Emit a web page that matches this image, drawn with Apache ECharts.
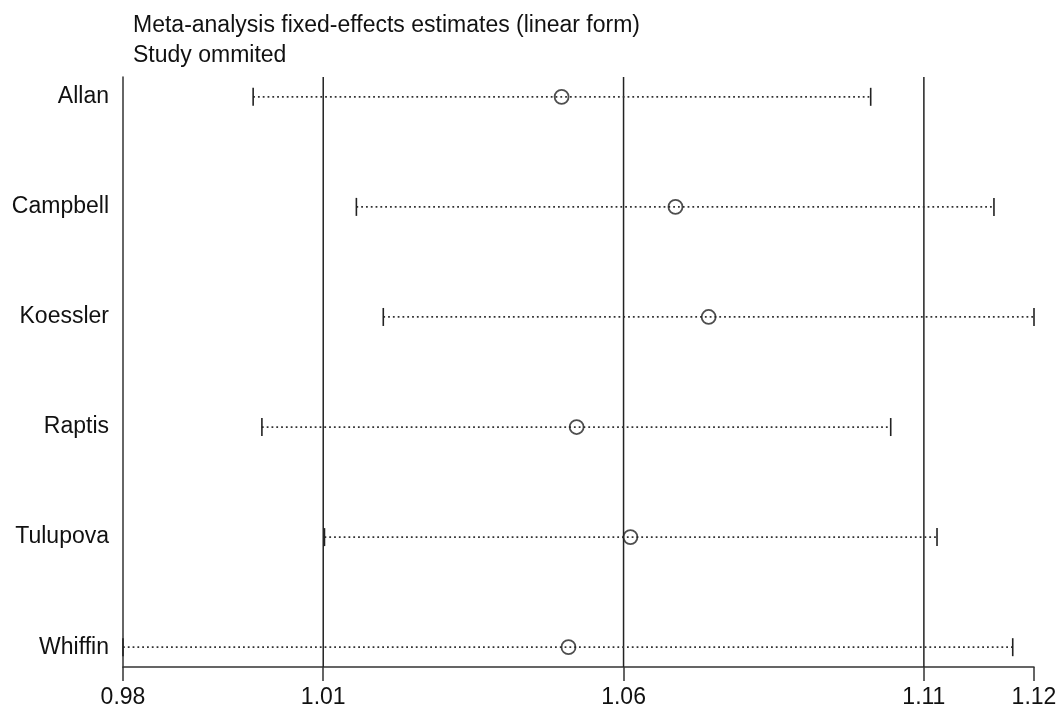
<!DOCTYPE html>
<html>
<head>
<meta charset="utf-8">
<script src="https://cdn.jsdelivr.net/npm/echarts@6/dist/echarts.min.js"></script>
<style>
html,body{margin:0;padding:0;background:#fff;}
#chart{width:1064px;height:709px;}
</style>
</head>
<body>
<div id="chart"></div>
<script>
// Data
const studies   = ['Allan', 'Campbell', 'Koessler', 'Raptis', 'Tulupova', 'Whiffin'];
const estimates = [1.0481, 1.0663, 1.0716, 1.0505, 1.0591, 1.0492];
const lowerCI   = [0.9988, 1.0153, 1.0196, 1.0002, 1.0102, 0.9780];
const upperCI   = [1.0975, 1.1172, 1.1236, 1.1007, 1.1081, 1.1202];
// combined estimate: lower CI, estimate, upper CI
const refLines  = [1.0100, 1.0580, 1.1060];

const xMin = Math.min(...lowerCI);
const xMax = Math.max(...upperCI);
const xTicks = [xMin, ...refLines, xMax];
const rowIdx = studies.map((s, i) => i);
const yMin = -0.18, yMax = studies.length - 1 + 0.18;

const FONT = "'Liberation Sans', Arial, Helvetica, sans-serif";
const LINE = '#333';

const chart = echarts.init(document.getElementById('chart'));
chart.setOption({
  backgroundColor: '#fff',
  animation: false,
  textStyle: { fontFamily: FONT },
  title: {
    text: 'Meta-analysis fixed-effects estimates (linear form)\nStudy ommited',
    left: 128, top: 6,
    textStyle: { fontFamily: FONT, fontSize: 23, fontWeight: 'normal', color: '#111', lineHeight: 30 }
  },
  grid: { left: 123, right: 30, top: 77, bottom: 37, containLabel: false },
  xAxis: {
    type: 'value', min: xMin, max: xMax,
    axisLine: { show: true, onZero: false, lineStyle: { color: LINE, width: 1.5 } },
    axisTick: { show: true, customValues: xTicks, length: 14, lineStyle: { color: LINE, width: 1.5 } },
    axisLabel: { customValues: xTicks, formatter: v => v.toFixed(2), fontSize: 23, color: '#111', margin: 19, fontFamily: FONT },
    splitLine: { show: false }
  },
  yAxis: {
    type: 'value', inverse: true, min: yMin, max: yMax,
    axisLine: { show: true, onZero: false, lineStyle: { color: LINE, width: 1.5 } },
    axisTick: { show: false },
    axisLabel: { customValues: rowIdx, formatter: v => studies[Math.round(v)] || '', fontSize: 23, color: '#111', margin: 14, fontFamily: FONT },
    splitLine: { show: false }
  },
  series: [
    {
      type: 'custom',
      silent: true,
      data: refLines.map(v => [v]),
      renderItem: function (params, api) {
        const v = api.value(0);
        const a = api.coord([v, yMin]);
        const b = api.coord([v, yMax]);
        return { type: 'line', shape: { x1: a[0], y1: a[1], x2: b[0], y2: b[1] },
                 style: { stroke: '#222', lineWidth: 1.5 } };
      },
      z: 2
    },
    {
      type: 'custom',
      silent: true,
      data: rowIdx.map(i => [lowerCI[i], upperCI[i], i]),
      renderItem: function (params, api) {
        const y = api.value(2);
        const p1 = api.coord([api.value(0), y]);
        const p2 = api.coord([api.value(1), y]);
        const h = 9;
        return {
          type: 'group',
          children: [
            { type: 'line', shape: { x1: p1[0], y1: p1[1], x2: p2[0], y2: p2[1] },
              style: { stroke: '#333', lineWidth: 1.7, lineDash: [1.8, 3] } },
            { type: 'line', shape: { x1: p1[0], y1: p1[1] - h, x2: p1[0], y2: p1[1] + h },
              style: { stroke: '#222', lineWidth: 1.6 } },
            { type: 'line', shape: { x1: p2[0], y1: p2[1] - h, x2: p2[0], y2: p2[1] + h },
              style: { stroke: '#222', lineWidth: 1.6 } }
          ]
        };
      },
      z: 3
    },
    {
      type: 'scatter',
      silent: true,
      data: rowIdx.map(i => [estimates[i], i]),
      symbol: 'circle',
      symbolSize: 14,
      itemStyle: { color: 'rgba(0,0,0,0)', borderColor: '#222', borderWidth: 1.8 },
      z: 4
    }
  ]
});
</script>
</body>
</html>
